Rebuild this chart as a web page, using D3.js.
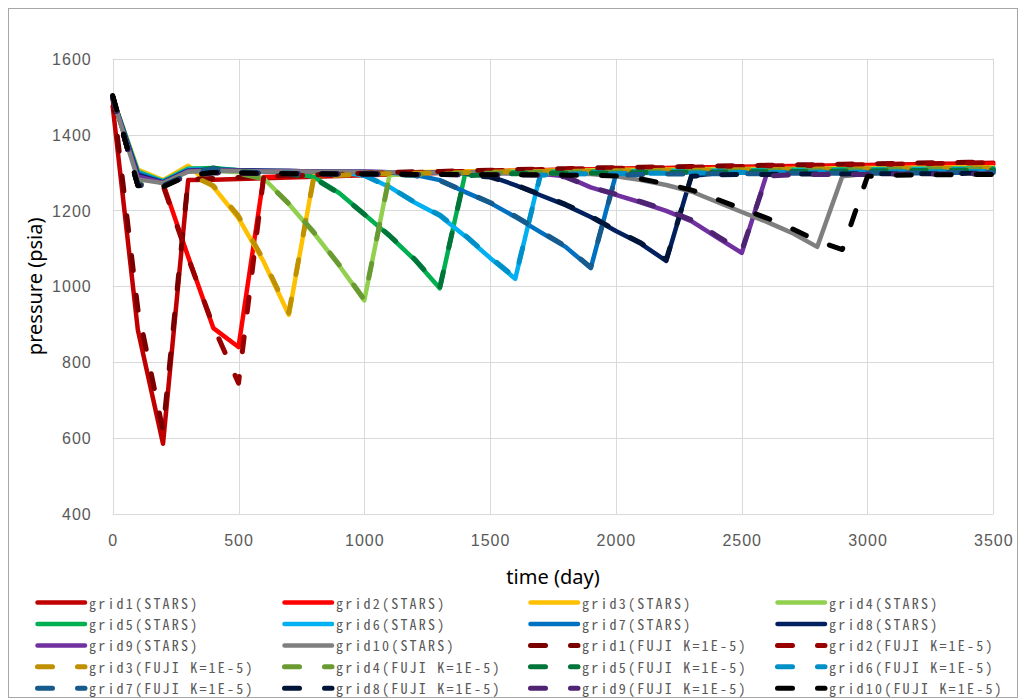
<!DOCTYPE html>
<html>
<head>
<meta charset="utf-8">
<script src="https://cdn.jsdelivr.net/npm/d3@7"></script>
<style>
  html, body { margin: 0; padding: 0; background: #ffffff; }
  svg { display: block; }
</style>
</head>
<body>
<svg id="chart" width="1019" height="700"></svg>
<script>
// Time axis (day) — one value every 100 days
const days = [0, 100, 200, 300, 400, 500, 600, 700, 800, 900, 1000, 1100, 1200, 1300, 1400, 1500,
  1600, 1700, 1800, 1900, 2000, 2100, 2200, 2300, 2400, 2500, 2600, 2700, 2800, 2900, 3000,
  3100, 3200, 3300, 3400, 3500];

// Pressure (psia), STARS runs
const grid1Stars = [1475, 885, 585, 1280, 1281, 1283, 1285, 1287, 1289, 1291, 1293, 1295, 1297, 1299, 1301, 1303, 1304, 1306, 1307, 1308, 1310, 1311, 1312, 1313, 1314, 1315, 1316, 1317, 1318, 1319, 1320, 1321, 1322, 1323, 1324, 1326];
const grid2Stars = [1495, 1292, 1272, 1078, 890, 840, 1288, 1290, 1292, 1294, 1296, 1297, 1299, 1300, 1302, 1303, 1305, 1306, 1307, 1308, 1309, 1310, 1311, 1312, 1313, 1314, 1315, 1316, 1316, 1317, 1318, 1319, 1320, 1320, 1321, 1322];
const grid3Stars = [1496, 1308, 1280, 1318, 1262, 1180, 1065, 925, 1292, 1296, 1298, 1300, 1301, 1302, 1303, 1304, 1305, 1305, 1306, 1306, 1307, 1307, 1308, 1308, 1309, 1309, 1310, 1310, 1311, 1311, 1312, 1312, 1313, 1313, 1314, 1314];
const grid4Stars = [1496, 1304, 1278, 1312, 1305, 1301, 1285, 1217, 1140, 1055, 963, 1293, 1298, 1300, 1301, 1302, 1303, 1303, 1304, 1304, 1305, 1305, 1306, 1306, 1307, 1307, 1308, 1308, 1309, 1309, 1310, 1310, 1311, 1311, 1312, 1312];
const grid5Stars = [1496, 1302, 1277, 1310, 1312, 1306, 1303, 1300, 1288, 1246, 1190, 1133, 1070, 995, 1294, 1299, 1301, 1302, 1302, 1303, 1303, 1304, 1304, 1305, 1305, 1306, 1306, 1307, 1307, 1308, 1308, 1309, 1309, 1310, 1310, 1311];
const grid6Stars = [1495, 1300, 1276, 1308, 1308, 1306, 1304, 1303, 1302, 1300, 1293, 1262, 1221, 1186, 1133, 1075, 1020, 1297, 1300, 1301, 1302, 1302, 1303, 1303, 1304, 1304, 1305, 1305, 1306, 1306, 1307, 1307, 1308, 1308, 1309, 1309];
const grid7Stars = [1495, 1298, 1275, 1306, 1308, 1306, 1305, 1304, 1303, 1302, 1301, 1300, 1294, 1280, 1249, 1220, 1183, 1143, 1104, 1048, 1295, 1299, 1300, 1301, 1302, 1302, 1303, 1303, 1304, 1304, 1305, 1305, 1306, 1306, 1307, 1307];
const grid8Stars = [1495, 1294, 1274, 1305, 1307, 1306, 1305, 1304, 1303, 1302, 1302, 1301, 1301, 1300, 1298, 1290, 1267, 1240, 1214, 1183, 1146, 1112, 1067, 1291, 1298, 1300, 1301, 1302, 1302, 1303, 1303, 1304, 1304, 1305, 1305, 1306];
const grid9Stars = [1495, 1290, 1273, 1304, 1306, 1305, 1304, 1304, 1303, 1302, 1302, 1301, 1301, 1300, 1300, 1299, 1298, 1297, 1290, 1261, 1241, 1221, 1199, 1172, 1130, 1088, 1297, 1300, 1301, 1301, 1302, 1302, 1303, 1303, 1304, 1304];
const grid10Stars = [1495, 1282, 1272, 1302, 1305, 1304, 1303, 1303, 1302, 1302, 1301, 1301, 1300, 1300, 1299, 1299, 1298, 1298, 1297, 1296, 1290, 1280, 1267, 1250, 1223, 1196, 1170, 1141, 1104, 1290, 1297, 1299, 1300, 1300, 1301, 1301];

// Pressure (psia), FUJI runs (K = 1E-5)
const grid1Fuji = [1500, 940, 620, 1282, 1284, 1287, 1290, 1292, 1294, 1296, 1298, 1300, 1302, 1303, 1305, 1306, 1308, 1309, 1310, 1312, 1313, 1314, 1315, 1316, 1317, 1318, 1319, 1320, 1321, 1322, 1323, 1324, 1325, 1326, 1327, 1328];
const grid2Fuji = [1500, 1268, 1266, 1075, 895, 745, 1288, 1291, 1293, 1295, 1297, 1299, 1300, 1302, 1303, 1305, 1306, 1308, 1309, 1310, 1311, 1312, 1313, 1314, 1315, 1316, 1317, 1318, 1319, 1320, 1321, 1322, 1323, 1324, 1325, 1326];
const grid3Fuji = [1500, 1268, 1265, 1296, 1265, 1185, 1070, 930, 1290, 1293, 1295, 1297, 1298, 1299, 1300, 1301, 1302, 1303, 1303, 1304, 1305, 1305, 1306, 1306, 1307, 1307, 1308, 1308, 1309, 1309, 1310, 1310, 1311, 1311, 1312, 1312];
const grid4Fuji = [1500, 1268, 1265, 1295, 1300, 1298, 1283, 1218, 1142, 1057, 965, 1290, 1294, 1296, 1297, 1298, 1299, 1300, 1300, 1301, 1301, 1302, 1302, 1303, 1303, 1304, 1304, 1305, 1305, 1306, 1306, 1307, 1307, 1308, 1308, 1309];
const grid5Fuji = [1500, 1268, 1265, 1295, 1312, 1302, 1299, 1297, 1285, 1245, 1190, 1134, 1072, 997, 1291, 1295, 1297, 1298, 1298, 1299, 1299, 1300, 1300, 1301, 1301, 1302, 1302, 1303, 1303, 1304, 1304, 1305, 1305, 1306, 1306, 1307];
const grid6Fuji = [1500, 1267, 1265, 1294, 1302, 1300, 1299, 1298, 1297, 1296, 1292, 1262, 1222, 1188, 1135, 1077, 1023, 1293, 1296, 1297, 1297, 1298, 1298, 1299, 1299, 1300, 1300, 1300, 1301, 1301, 1301, 1302, 1302, 1302, 1303, 1303];
const grid7Fuji = [1500, 1267, 1264, 1294, 1310, 1300, 1299, 1298, 1297, 1297, 1296, 1296, 1292, 1279, 1250, 1221, 1185, 1145, 1106, 1050, 1292, 1295, 1296, 1296, 1297, 1297, 1297, 1298, 1298, 1298, 1299, 1299, 1299, 1300, 1300, 1300];
const grid8Fuji = [1500, 1266, 1264, 1293, 1300, 1299, 1298, 1297, 1297, 1296, 1296, 1296, 1295, 1295, 1294, 1288, 1268, 1242, 1216, 1185, 1148, 1114, 1070, 1290, 1294, 1295, 1295, 1296, 1296, 1296, 1297, 1297, 1297, 1297, 1298, 1298];
const grid9Fuji = [1500, 1266, 1263, 1293, 1299, 1298, 1298, 1297, 1297, 1296, 1296, 1295, 1295, 1295, 1294, 1294, 1294, 1293, 1288, 1262, 1243, 1223, 1202, 1175, 1134, 1094, 1291, 1294, 1295, 1295, 1295, 1296, 1296, 1296, 1296, 1297];
const grid10Fuji = [1503, 1265, 1262, 1292, 1300, 1299, 1298, 1297, 1297, 1296, 1296, 1296, 1295, 1295, 1295, 1294, 1294, 1294, 1293, 1293, 1291, 1283, 1270, 1254, 1230, 1205, 1180, 1152, 1120, 1097, 1290, 1293, 1294, 1294, 1295, 1295];

// Series names (legend text)
const starsNames = ["grid1(STARS)", "grid2(STARS)", "grid3(STARS)", "grid4(STARS)", "grid5(STARS)",
  "grid6(STARS)", "grid7(STARS)", "grid8(STARS)", "grid9(STARS)", "grid10(STARS)"];
const fujiNames = ["grid1(FUJI K=1E-5)", "grid2(FUJI K=1E-5)", "grid3(FUJI K=1E-5)", "grid4(FUJI K=1E-5)",
  "grid5(FUJI K=1E-5)", "grid6(FUJI K=1E-5)", "grid7(FUJI K=1E-5)", "grid8(FUJI K=1E-5)",
  "grid9(FUJI K=1E-5)", "grid10(FUJI K=1E-5)"];

// Axis ticks
const xTicks = [0, 500, 1000, 1500, 2000, 2500, 3000, 3500];
const yTicks = [400, 600, 800, 1000, 1200, 1400, 1600];

const starsColors = ["#C00000", "#FF0000", "#FFC000", "#92D050", "#00B050",
  "#00B0F0", "#0070C0", "#002060", "#7030A0", "#7F7F7F"];
const fujiColors = ["#7A0000", "#990000", "#BF9000", "#6A9A32", "#00753A",
  "#0090C8", "#175A8C", "#001438", "#4E2472", "#000000"];

const starsValues = [grid1Stars, grid2Stars, grid3Stars, grid4Stars, grid5Stars,
  grid6Stars, grid7Stars, grid8Stars, grid9Stars, grid10Stars];
const fujiValues = [grid1Fuji, grid2Fuji, grid3Fuji, grid4Fuji, grid5Fuji,
  grid6Fuji, grid7Fuji, grid8Fuji, grid9Fuji, grid10Fuji];

const series = [
  ...starsNames.map((name, i) => ({ name, values: starsValues[i], color: starsColors[i], dashed: false })),
  ...fujiNames.map((name, i) => ({ name, values: fujiValues[i], color: fujiColors[i], dashed: true }))
];

const svg = d3.select("#chart");
const W = 1019, H = 700;

// chart frame
svg.append("rect")
  .attr("x", 8.5).attr("y", 8.5)
  .attr("width", W - 10).attr("height", H - 11)
  .attr("fill", "#ffffff").attr("stroke", "#A6A6A6").attr("stroke-width", 1);

const plot = { left: 112.7, right: 993.3, top: 58.7, bottom: 514 };

const x = d3.scaleLinear().domain([0, 3500]).range([plot.left, plot.right]);
const y = d3.scaleLinear().domain([400, 1600]).range([plot.bottom, plot.top]);

const labelFont = "'Liberation Sans', Arial, sans-serif";
const titleFont = "'Noto Sans', 'Liberation Sans', sans-serif";
const legendFont = "'Noto Sans Mono CJK JP', 'DejaVu Sans Mono', monospace";

// gridlines
const grid = svg.append("g").attr("class", "grid");
grid.selectAll("line.h").data(yTicks).join("line")
  .attr("class", "h")
  .attr("x1", plot.left).attr("x2", plot.right)
  .attr("y1", d => Math.round(y(d)) + 0.5).attr("y2", d => Math.round(y(d)) + 0.5)
  .attr("stroke", "#D9D9D9").attr("stroke-width", 1);
grid.selectAll("line.v").data(xTicks).join("line")
  .attr("class", "v")
  .attr("y1", plot.top).attr("y2", plot.bottom)
  .attr("x1", d => Math.round(x(d)) + 0.5).attr("x2", d => Math.round(x(d)) + 0.5)
  .attr("stroke", "#D9D9D9").attr("stroke-width", 1);

// axes (labels only, Excel-style)
const yAxis = d3.axisLeft(y).tickValues(yTicks).tickSize(0).tickPadding(0).tickFormat(d3.format("d"));
const yg = svg.append("g").attr("transform", `translate(${plot.left - 21},0)`).call(yAxis);
yg.select(".domain").remove();
yg.selectAll("text")
  .attr("font-family", labelFont).attr("font-size", 16).attr("fill", "#595959")
  .attr("letter-spacing", "1px").attr("dy", "0.35em");

const xAxis = d3.axisBottom(x).tickValues(xTicks).tickSize(0).tickPadding(0).tickFormat(d3.format("d"));
const xg = svg.append("g").attr("transform", `translate(0,${plot.bottom + 21})`).call(xAxis);
xg.select(".domain").remove();
xg.selectAll("text")
  .attr("font-family", labelFont).attr("font-size", 16).attr("fill", "#595959")
  .attr("letter-spacing", "1px").attr("dy", "0.71em");

// axis titles
svg.append("text")
  .attr("transform", `translate(34,${(plot.top + plot.bottom) / 2}) rotate(-90)`)
  .attr("text-anchor", "middle").attr("dominant-baseline", "central")
  .attr("font-family", titleFont).attr("font-size", 20).attr("fill", "#000000")
  .text("pressure (psia)");
svg.append("text")
  .attr("x", (plot.left + plot.right) / 2).attr("y", 576)
  .attr("text-anchor", "middle").attr("dominant-baseline", "central")
  .attr("font-family", titleFont).attr("font-size", 20).attr("fill", "#000000")
  .text("time (day)");

// series lines
const line = d3.line()
  .x((d, i) => x(days[i]))
  .y(d => y(d));

svg.append("g").attr("class", "series")
  .selectAll("path").data(series).join("path")
  .attr("d", d => line(d.values))
  .attr("fill", "none")
  .attr("stroke", d => d.color)
  .attr("stroke-width", d => d.dashed ? 5 : 4.5)
  .attr("stroke-linejoin", "round")
  .attr("stroke-linecap", "round")
  .attr("stroke-dasharray", d => d.dashed ? "15,25" : null);

// legend: 4 columns, row-major
const legendCols = [35, 282, 528, 775];
const legendRow0 = 602.6, legendRowStep = 21.4;
const legend = svg.append("g").attr("class", "legend");
const items = legend.selectAll("g").data(series).join("g")
  .attr("transform", (d, i) => `translate(${legendCols[i % 4]},${legendRow0 + Math.floor(i / 4) * legendRowStep})`);
items.append("line")
  .attr("x1", 2.5).attr("x2", 50)
  .attr("y1", 0).attr("y2", 0)
  .attr("stroke", d => d.color)
  .attr("stroke-width", d => d.dashed ? 5 : 4.5)
  .attr("stroke-linecap", "round")
  .attr("stroke-dasharray", d => d.dashed ? "15,25" : null);
items.append("text")
  .attr("x", 54).attr("y", 0)
  .attr("dominant-baseline", "central")
  .attr("font-family", legendFont).attr("font-size", 14).attr("fill", "#595959")
  .attr("letter-spacing", "2.2px")
  .text(d => d.name);
</script>
</body>
</html>
